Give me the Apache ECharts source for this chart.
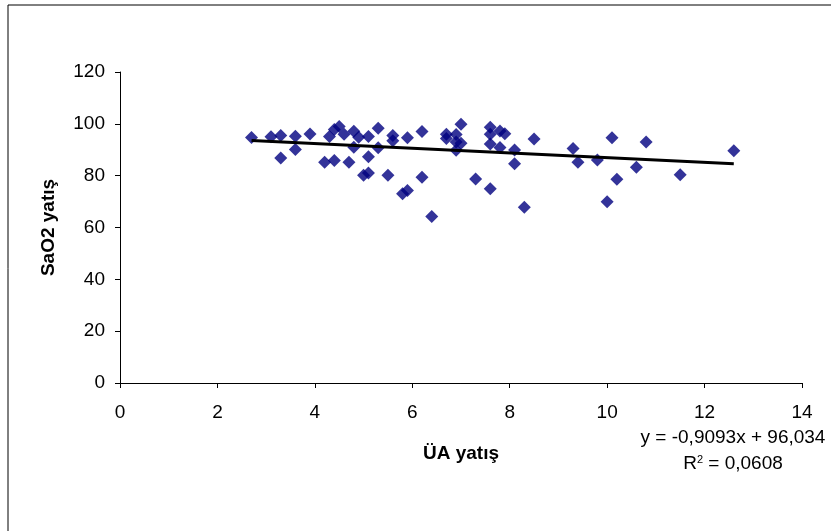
<!DOCTYPE html>
<html>
<head>
<meta charset="utf-8">
<script src="https://cdn.jsdelivr.net/npm/echarts@6/dist/echarts.min.js"></script>
<style>
  html, body { margin: 0; padding: 0; background: #fff; }
  #chart { width: 831px; height: 531px; }
</style>
</head>
<body>
<div id="chart"></div>
<script>
  // ÜA yatış (x) values
  var uaYatis = [
    2.7, 3.1, 3.3, 3.3, 3.6, 3.6, 3.9, 4.2, 4.3, 4.4, 4.4, 4.5, 4.6, 4.7, 4.8, 4.8,
    4.9, 5.0, 5.1, 5.1, 5.1, 5.3, 5.3, 5.5, 5.6, 5.6, 5.8, 5.9, 5.9, 6.2, 6.2, 6.4,
    6.7, 6.7, 6.9, 6.9, 6.9, 7.0, 7.0, 7.3, 7.6, 7.6, 7.6, 7.6, 7.8, 7.8, 7.9, 8.1,
    8.1, 8.3, 8.5, 9.3, 9.4, 9.8, 10.0, 10.1, 10.2, 10.6, 10.8, 11.5, 12.6
  ];
  // SaO2 yatış (y) values
  var sao2Yatis = [
    94.7, 95.0, 95.5, 86.8, 95.2, 90.1, 96.1, 85.2, 95.1, 97.8, 85.9, 99.0, 96.0, 85.2, 97.1, 91.0,
    94.8, 80.2, 81.0, 95.1, 87.3, 98.3, 90.8, 80.2, 95.5, 93.5, 73.0, 74.3, 94.6, 97.0, 79.4, 64.2,
    96.0, 94.3, 95.9, 89.8, 93.0, 99.8, 92.5, 78.7, 98.7, 96.0, 92.2, 75.0, 97.2, 90.9, 96.2, 89.9,
    84.6, 67.8, 94.1, 90.5, 85.2, 86.0, 69.9, 94.6, 78.6, 83.2, 93.0, 80.4, 89.6
  ];
  // linear trend from the chart's equation
  var slope = -0.9093;
  var intercept = 96.034;

  var points = uaYatis.map(function (x, i) { return [x, sao2Yatis[i]]; });
  var xMin = Math.min.apply(null, uaYatis);
  var xMax = Math.max.apply(null, uaYatis);
  var trend = [[xMin, slope * xMin + intercept], [xMax, slope * xMax + intercept]];

  var font = "'Liberation Sans', Arial, sans-serif";
  var chart = echarts.init(document.getElementById("chart"));
  chart.setOption({
    animation: false,
    grid: { left: 120, right: 29, top: 72, bottom: 148 },
    xAxis: {
      type: "value",
      min: 0,
      max: 14,
      interval: 2,
      name: "ÜA yatış",
      nameLocation: "middle",
      nameGap: 61,
      nameTextStyle: { fontFamily: font, fontSize: 19, fontWeight: "bold", color: "#000" },
      axisLine: { show: true, onZero: false, lineStyle: { color: "#000", width: 1 } },
      axisTick: { show: true, length: 5, lineStyle: { color: "#000" } },
      axisLabel: { margin: 20, fontFamily: font, fontSize: 19, color: "#000" },
      splitLine: { show: false }
    },
    yAxis: {
      type: "value",
      min: 0,
      max: 120,
      interval: 20,
      name: "SaO2 yatış",
      nameLocation: "middle",
      nameGap: 62,
      nameTextStyle: { fontFamily: font, fontSize: 19, fontWeight: "bold", color: "#000" },
      axisLine: { show: true, lineStyle: { color: "#000", width: 1 } },
      axisTick: { show: true, length: 5, lineStyle: { color: "#000" } },
      axisLabel: { margin: 15, fontFamily: font, fontSize: 19, color: "#000" },
      splitLine: { show: false }
    },
    series: [
      {
        type: "scatter",
        symbol: "diamond",
        symbolSize: 13,
        itemStyle: { color: "#000080" },
        data: points,
        z: 2
      },
      {
        type: "line",
        data: trend,
        symbol: "none",
        lineStyle: { color: "#000", width: 3 },
        z: 3
      }
    ],
    graphic: [
      {
        type: "rect",
        shape: { x: 8, y: 5, width: 840, height: 540 },
        style: { fill: "none", stroke: "#000", lineWidth: 1 },
        silent: true
      },
      {
        type: "text",
        x: 733,
        y: 438,
        style: {
          text: "y = -0,9093x + 96,034",
          font: "19px " + font,
          fill: "#000",
          textAlign: "center",
          textVerticalAlign: "middle"
        }
      },
      {
        type: "text",
        x: 733,
        y: 464,
        style: {
          text: "{a|R}{s|2}{a| = 0,0608}",
          fill: "#000",
          textAlign: "center",
          textVerticalAlign: "middle",
          rich: {
            a: { fontFamily: font, fontSize: 19, color: "#000" },
            s: { fontFamily: font, fontSize: 11, color: "#000", verticalAlign: "top", padding: [0, 0, 9, 0] }
          }
        }
      }
    ]
  });
</script>
</body>
</html>
